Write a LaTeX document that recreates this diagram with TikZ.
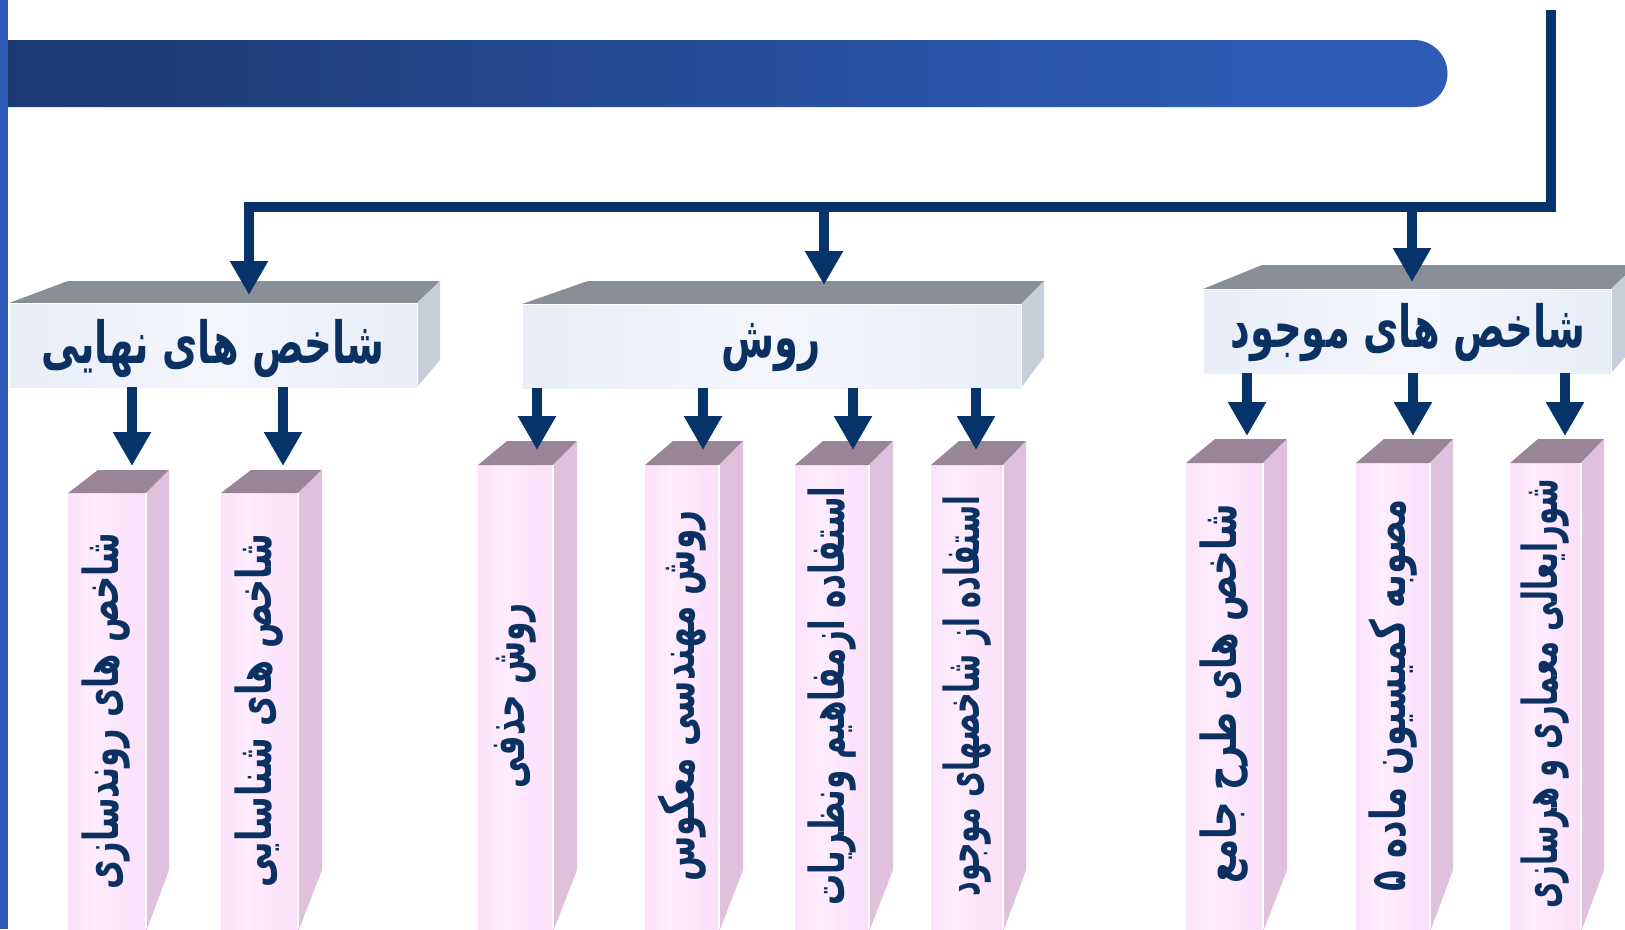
\documentclass[tikz,border=0pt]{standalone}
\usepackage{fontspec}
\usetikzlibrary{arrows.meta}
\TeXXeTstate=1
\newfontfamily\arabicfont[Script=Arabic]{DejaVu Sans}
\definecolor{navy}{HTML}{06336A}
\definecolor{textnavy}{HTML}{0B3163}
\definecolor{stripblue}{HTML}{2F5CB8}
\definecolor{bannerA}{HTML}{14294F}
\definecolor{bannerB}{HTML}{1C3A72}
\definecolor{bannerC}{HTML}{2D5BB5}
\definecolor{headtop}{HTML}{8A8E97}
\definecolor{headside}{HTML}{C8CED9}
\definecolor{headedge}{HTML}{DDE4F2}
\definecolor{headmid}{HTML}{F4F6FC}
\definecolor{pinktop}{HTML}{988598}
\definecolor{pinkside}{HTML}{DFC0DD}
\definecolor{pinkedge}{HTML}{F8D5F6}
\definecolor{pinkmid}{HTML}{FFECFE}
\pgfdeclarehorizontalshading{bannershade}{100bp}{color(0bp)=(bannerA); color(25bp)=(bannerB); color(68bp)=(bannerC); color(100bp)=(bannerC)}
\pgfdeclarehorizontalshading{headshade}{100bp}{color(0bp)=(headedge); color(50bp)=(headmid); color(100bp)=(headedge)}
\pgfdeclarehorizontalshading{pinkshade}{100bp}{color(0bp)=(pinkedge); color(42bp)=(pinkmid); color(100bp)=(pinkedge)}
% pillar: fl fr bl br yfront yback
\newcommand\drawpillar[6]{%
  \shade[shading=pinkshade] (#1,#5) rectangle (#2,929);
  \fill[pinktop] (#1,#5) -- (#3,#6) -- (#4,#6) -- (#2,#5) -- cycle;
  \fill[pinkside] (#2,#5) -- (#4,#6) -- (#4,870) -- (#2,932) -- cycle;
  \draw[white, line width=1.5pt] (#2,#5) -- (#2,929);
}
% header: fl fr bl br yfront yback ybottom ysidebottom
\newcommand\drawheader[8]{%
  \shade[shading=headshade] (#1,#5) rectangle (#2,#7);
  \fill[headtop] (#1,#5) -- (#3,#6) -- (#4,#6) -- (#2,#5) -- cycle;
  \fill[headside] (#2,#5) -- (#4,#6) -- (#4,#8) -- (#2,#7) -- cycle;
  \draw[white, line width=1pt] (#1,#7) -- (#1,#5) -- (#2,#5) -- (#2,#7);
}
\newcommand\ptxt[2]{\scalebox{#1}[1.42]{#2}}
\newcommand\htxt[1]{\scalebox{0.875}[1.32]{#1}}
\begin{document}
\begin{tikzpicture}[x=1pt,y=-1pt,
  arr/.style={draw=navy, line width=10.5pt, -{Triangle[width=36pt,length=34pt]}},
  trunk/.style={draw=navy, line width=10.5pt},
  htext/.style={text=textnavy, font=\arabicfont\bfseries\fontsize{44}{50}\selectfont, inner sep=0pt},
  ptext/.style={text=textnavy, font=\arabicfont\bfseries\fontsize{34}{40}\selectfont, inner sep=0pt, rotate=90}]
\useasboundingbox (0,0) rectangle (1625,929);
\clip (0,0) rectangle (1625,929);
% left strip
\fill[stripblue] (0,0) rectangle (8,929);
% banner
\shade[shading=bannershade] (8,40) -- (1414,40) arc[start angle=-90, end angle=90, radius=33.5] -- (8,107) -- cycle;

% headers
\drawheader{9}{417}{68}{440}{303}{281}{387}{360}
\drawheader{522}{1021}{588}{1044}{304}{281}{388}{357}
\drawheader{1203}{1611}{1262}{1636}{289}{265}{373}{345}

% pillars
\drawpillar{68}{146}{98}{169}{493}{470}
\drawpillar{221}{298}{251}{322}{493}{470}
\drawpillar{478}{553}{507}{577}{465}{441}
\drawpillar{645}{719}{673}{743}{465}{441}
\drawpillar{795}{869}{823}{893}{465}{441}
\drawpillar{931}{1003}{959}{1026}{465}{441}
\drawpillar{1186}{1263}{1215}{1287}{463}{439}
\drawpillar{1356}{1430}{1384}{1453}{463}{439}
\drawpillar{1510}{1581}{1538}{1604}{463}{439}

% header texts
\node[htext] (h1) at (213,349) {\htxt{\beginR شاخص های نهایی\endR}};
\node[htext] (h2) at (771,348) {\htxt{\beginR روش\endR}};
\node[htext] (h3) at (1408,333) {\htxt{\beginR شاخص های موجود\endR}};

% pillar texts
\node[ptext] (p8) at (106,711) {\ptxt{0.944}{\beginR شاخص های روندسازی\endR}};
\node[ptext] (p9) at (259,711) {\ptxt{0.978}{\beginR شاخص های شناسایی\endR}};
\node[ptext] (p1) at (515,696) {\ptxt{0.92}{\beginR روش حذفی\endR}};
\node[ptext] (p2) at (682,696) {\ptxt{0.966}{\beginR روش مهندسی معکوس\endR}};
\node[ptext] (p3) at (832,696) {\ptxt{0.913}{\beginR استفاده ازمفاهیم ونظریات\endR}};
\node[ptext] (p4) at (967,696) {\ptxt{0.84}{\beginR استفاده از شاخصهای موجود\endR}};
\node[ptext] (p5) at (1224,694) {\ptxt{1.0}{\beginR شاخص های طرح جامع\endR}};
\node[ptext] (p6) at (1393,695) {\ptxt{1.0}{\beginR مصوبه کمیسیون ماده ۵\endR}};
\node[ptext] (p7) at (1545,694) {\ptxt{0.855}{\beginR شورایعالی معماری و هرسازی\endR}};

% connector coordinates
\coordinate (top) at (1551,10);
\coordinate (corner) at (1551,207);
\coordinate (jl) at (249,207);
\coordinate (jm) at (824,207);
\coordinate (jr) at (1412,207);
\coordinate (h1in) at (249,295);
\coordinate (h2in) at (824,285);
\coordinate (h3in) at (1412,282);
\draw[trunk] (top) -- (corner) -- (jl) -- ++(0,1);
\draw[arr] (jl) -- (h1in);
\draw[arr] (jm) -- (h2in);
\draw[arr] (jr) -- (h3in);

% sub arrows
\foreach \x/\n in {132/a8, 283/a9}{
  \coordinate (s\n) at (\x,387);
  \coordinate (e\n) at (\x,466);
  \draw[arr] (s\n) -- (e\n);
}
\foreach \x/\n in {537/a1, 703/a2, 853/a3, 976/a4}{
  \coordinate (s\n) at (\x,388);
  \coordinate (e\n) at (\x,450);
  \draw[arr] (s\n) -- (e\n);
}
\foreach \x/\n in {1247/a5, 1413/a6, 1565/a7}{
  \coordinate (s\n) at (\x,373);
  \coordinate (e\n) at (\x,436);
  \draw[arr] (s\n) -- (e\n);
}
\end{tikzpicture}
\end{document}
